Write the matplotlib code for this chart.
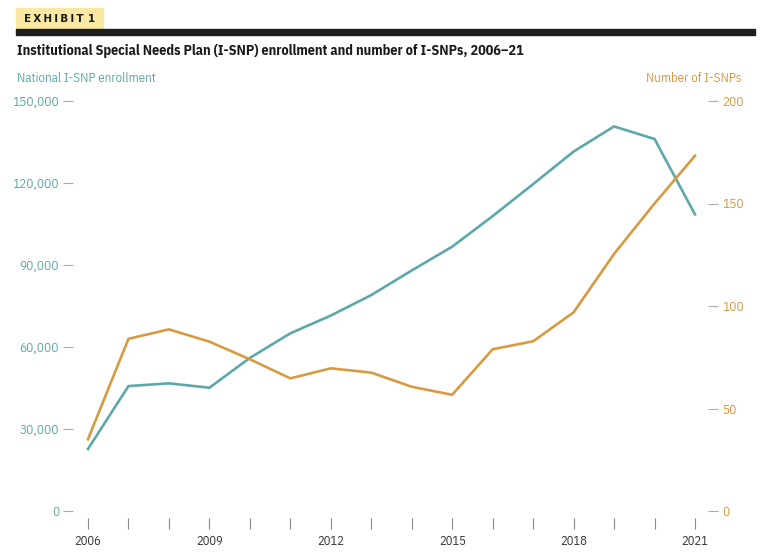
import matplotlib
matplotlib.use("Agg")
import matplotlib.pyplot as plt
from matplotlib.patches import Rectangle
import matplotlib.transforms as mtrans

years = list(range(2006, 2022))
enrollment = [22700, 45700, 46700, 45100, 56000, 65000, 71500, 79000, 88000, 96700,
              107900, 119600, 131500, 140700, 136100, 108500]
num_snps = [35, 84, 88.6, 82.6, 74, 64.7, 69.6, 67.5, 60.6, 56.7,
            78.9, 82.8, 96.9, 125.4, 150, 173.3]
left_ticks = [0, 30000, 60000, 90000, 120000, 150000]
right_ticks = [0, 50, 100, 150, 200]
xtick_labels = [2006, 2009, 2012, 2015, 2018, 2021]

TEAL = "#5ea9a8"
ORANGE = "#d89a40"
FONT = ["IBM Plex Sans Condensed", "DejaVu Sans"]
plt.rcParams['font.family'] = FONT

W, H = 770, 560
fig = plt.figure(figsize=(W/100, H/100), dpi=100)

def fx(px): return px / W
def fy(py): return 1 - py / H

ax = fig.add_axes([fx(73), fy(511), fx(708) - fx(73), fy(101) - fy(511)])
ax2 = ax.twinx()

x0 = 2006 - 15/40.47
x1 = 2021 + 13/40.47
ax.set_xlim(x0, x1)
ax.set_ylim(0, 150000)
ax2.set_ylim(0, 200)

ax.plot(years, enrollment, color=TEAL, lw=1.9, solid_joinstyle='miter', zorder=3)
ax2.plot(years, num_snps, color=ORANGE, lw=1.9, solid_joinstyle='miter', zorder=3)

for a in (ax, ax2):
    for s in a.spines.values():
        s.set_visible(False)

ax.set_yticks(left_ticks)
ax.set_yticklabels([f"{v:,}" for v in left_ticks])
ax.tick_params(axis='y', length=7, width=0.8, color="#aaaaaa", pad=3,
               labelsize=9.5, labelcolor=TEAL)
ax2.set_yticks(right_ticks)
ax2.set_yticklabels([str(v) for v in right_ticks])
ax2.tick_params(axis='y', length=7, width=0.8, color="#aaaaaa", pad=3,
                labelsize=9.5, labelcolor=ORANGE)

ax.set_xticks(years)
ax.set_xticklabels([str(y) if y in xtick_labels else "" for y in years])
ax.tick_params(axis='x', direction='out', length=8, width=0.8, color="#888888",
               pad=4, labelsize=9, labelcolor="#333333")
offset = mtrans.ScaledTranslation(0, -7/100, fig.dpi_scale_trans)
for t in ax.xaxis.get_major_ticks():
    t.tick1line.set_transform(t.tick1line.get_transform() + offset)
    t.label1.set_transform(t.label1.get_transform() + offset)

# header
fig.patches.append(Rectangle((fx(16), fy(30)), fx(103) - fx(16), fy(8) - fy(30),
                             transform=fig.transFigure, color="#fbe8a3", zorder=0))
fig.text(fx(59.5), fy(19.5), "E\u2009X\u2009H\u2009I\u2009B\u2009I\u2009T\u2009\u20091",
         fontsize=7.5, fontweight='bold', color="#1a1a1a", va='center', ha='center',
         family=["DejaVu Sans"])
fig.patches.append(Rectangle((fx(16), fy(35)), fx(755) - fx(16), fy(29) - fy(35),
                             transform=fig.transFigure, color="#1e1e1e", zorder=1))
fig.text(fx(17), fy(51), "Institutional Special Needs Plan (I-SNP) enrollment and number of I-SNPs, 2006–21",
         fontsize=10.2, fontweight='bold', color="#1a1a1a", va='center', ha='left')
fig.text(fx(17), fy(79), "National I-SNP enrollment", fontsize=9.3, color=TEAL,
         va='center', ha='left')
fig.text(fx(741), fy(79), "Number of I-SNPs", fontsize=9.3, color=ORANGE,
         va='center', ha='right')

fig.savefig("out.png", dpi=100)
